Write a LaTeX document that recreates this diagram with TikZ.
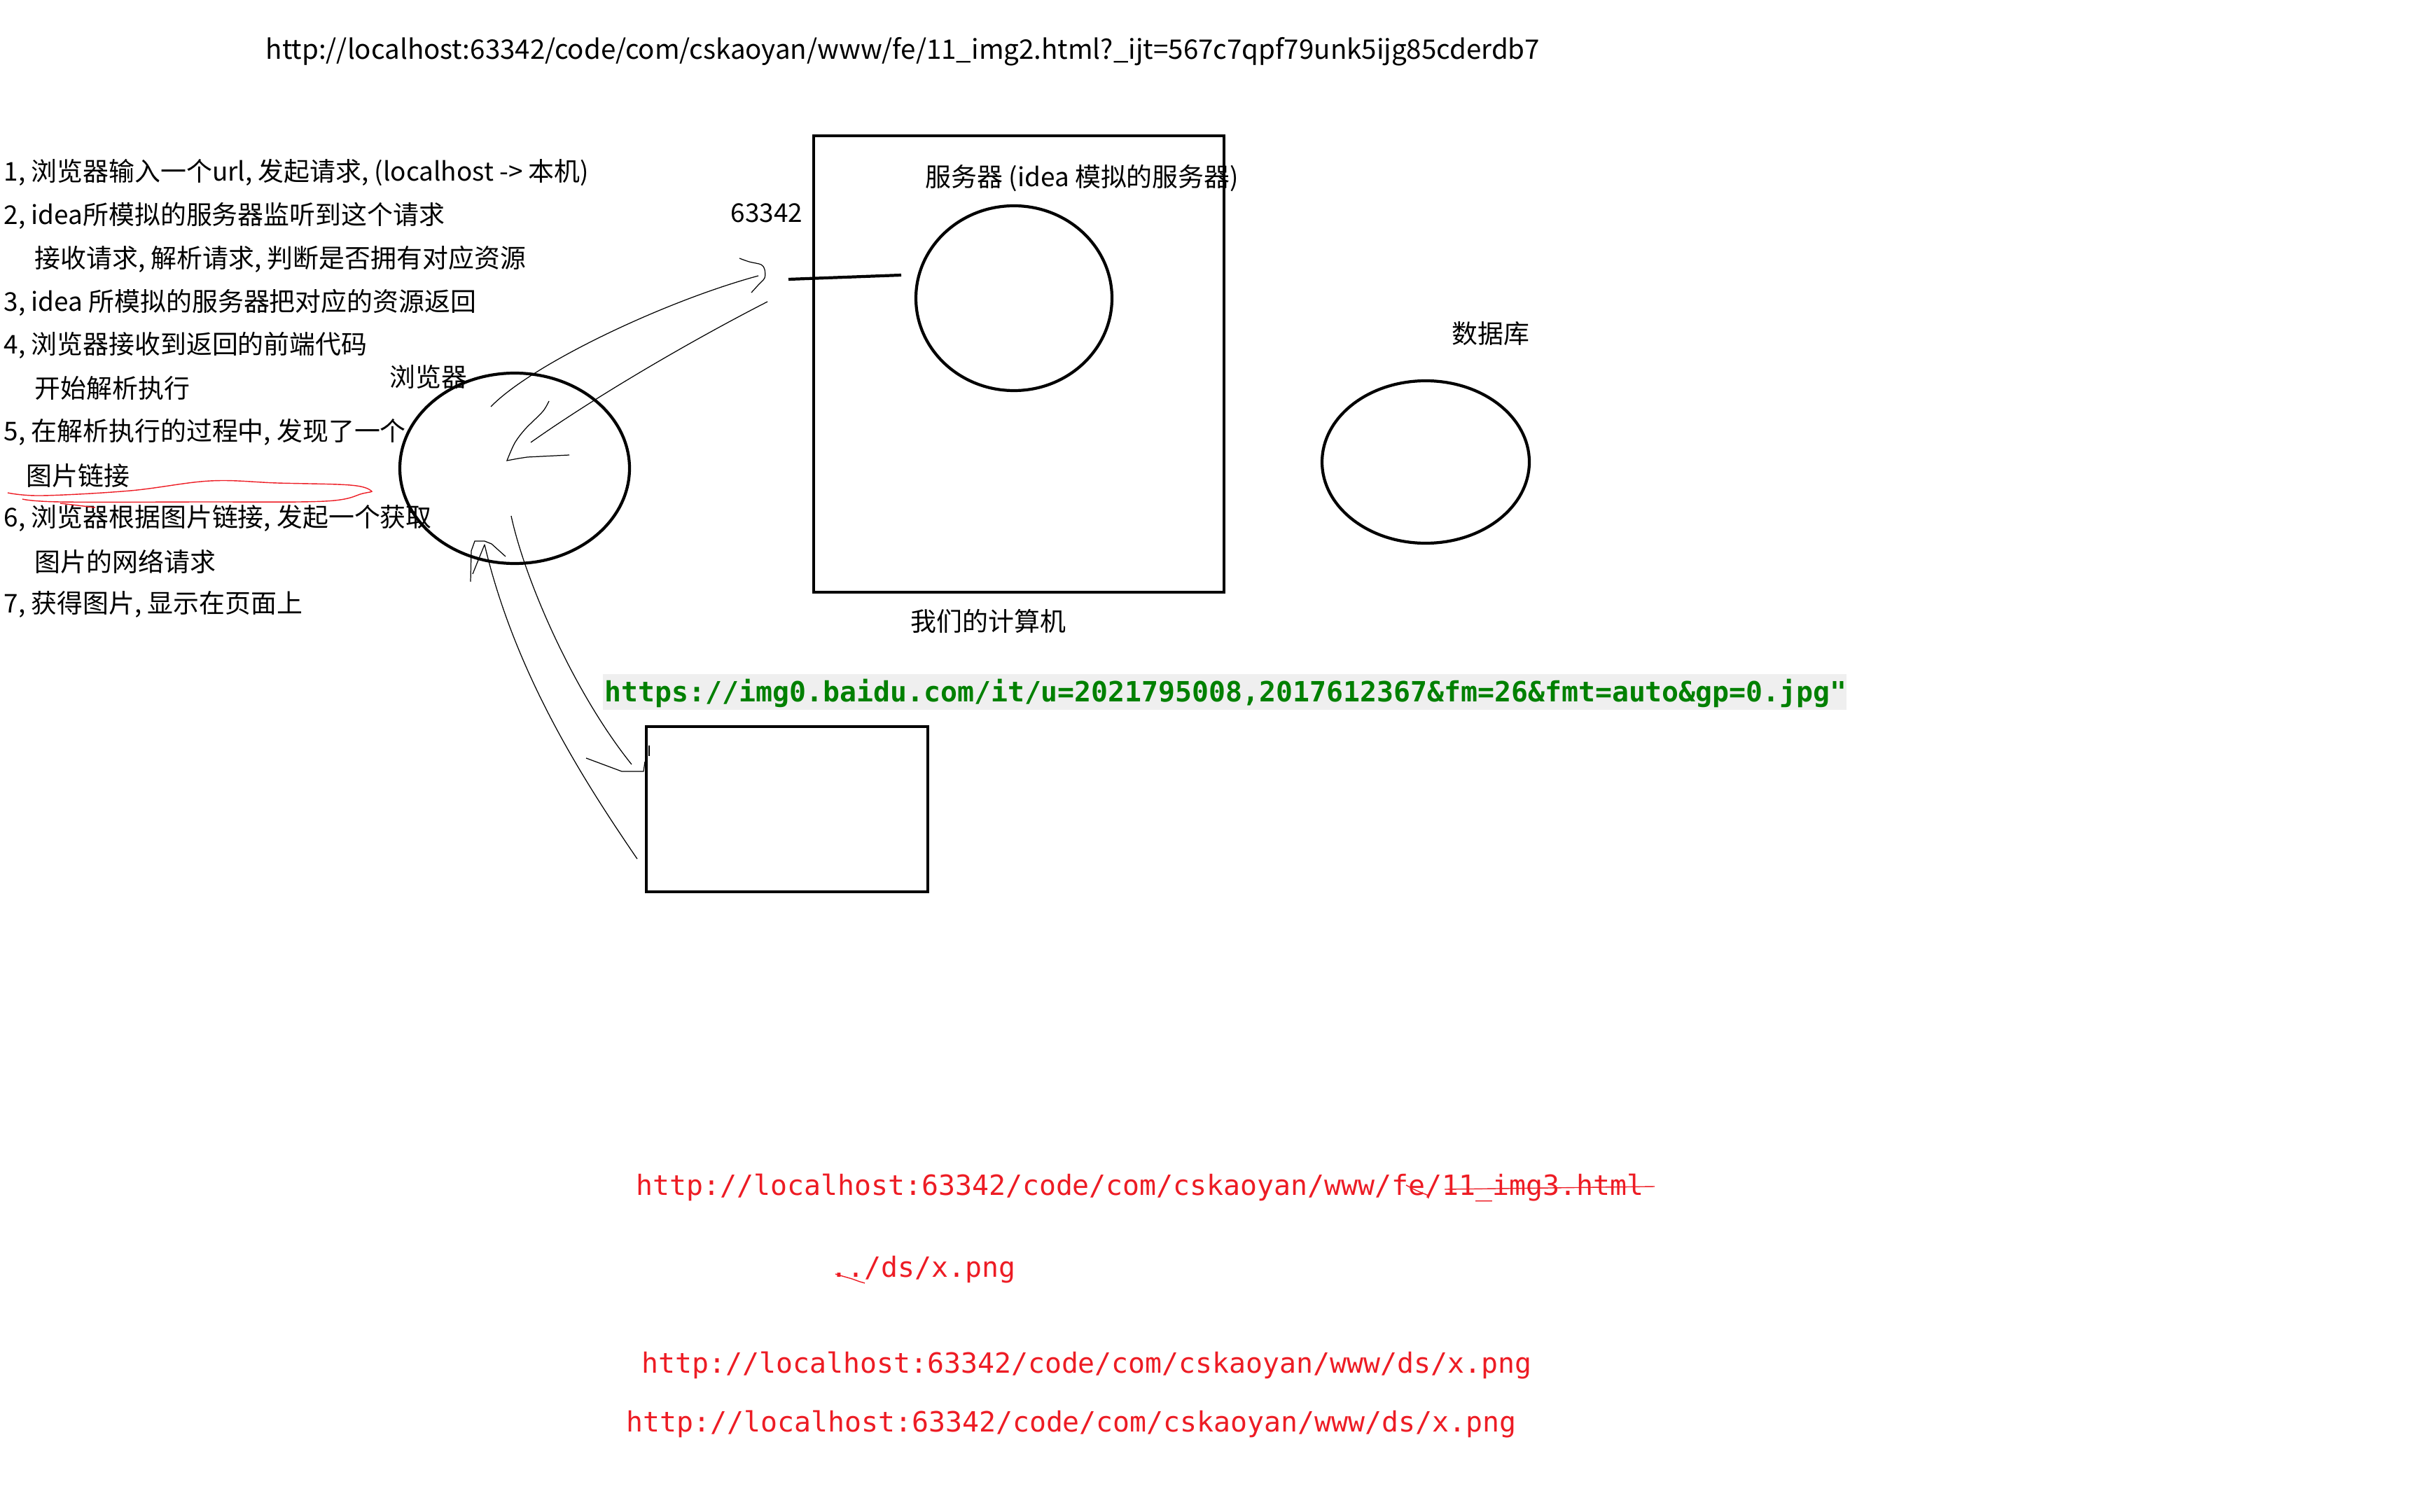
\documentclass[tikz,border=0pt]{standalone}
\usepackage{fontspec}
\newfontfamily\cjk{Noto Sans CJK SC}
\newfontfamily\urlmono{DejaVu Sans Mono}
\usepackage{tikz}
\usetikzlibrary{shapes.geometric,positioning}

\definecolor{pencilred}{RGB}{237,28,36}
\definecolor{linkgreen}{RGB}{0,128,0}
\definecolor{codebg}{RGB}{239,239,239}

\tikzset{
  note/.style={font=\cjk\fontsize{10.5}{12.6}\selectfont,inner sep=0pt,anchor=west},
  weburl/.style={font=\urlmono\fontsize{11.33}{13}\selectfont,text=pencilred,inner sep=0pt,anchor=base west},
  imgurl/.style={font=\urlmono\bfseries\fontsize{11.33}{13}\selectfont,text=linkgreen,fill=codebg,
                 inner xsep=0.03cm,inner ysep=0pt,text height=0.39cm,text depth=0.12cm,
                 text width=17.70cm,align=left,anchor=base west},
  machine/.style={draw,line width=1.2pt,inner sep=0pt},
  ring/.style={ellipse,draw,line width=1.2pt,inner sep=0pt},
  pencil/.style={line width=0.35pt},
  redpen/.style={draw=pencilred,line width=0.4pt}
}

\begin{document}
\begin{tikzpicture}
  \useasboundingbox (0,0) rectangle (34.56,-21.6);

  \node[note,font=\cjk\fontsize{10.95}{13}\selectfont] (pageurl) at (3.79,-0.74) {http://localhost:63342/code/com/cskaoyan/www/fe/11\_img2.html?\_ijt=567c7qpf79unk5ijg85cderdb7};

  % steps
  \node[note] (s1)  at (0.05,-2.47) {1, 浏览器输入一个url, 发起请求, (localhost -> 本机)};
  \node[note] (s2)  at (0.05,-3.08) {2, idea所模拟的服务器监听到这个请求};
  \node[note] (s3)  at (0.49,-3.70) {接收请求, 解析请求, 判断是否拥有对应资源};
  \node[note] (s4)  at (0.05,-4.32) {3, idea 所模拟的服务器把对应的资源返回};
  \node[note] (s5)  at (0.05,-4.93) {4, 浏览器接收到返回的前端代码};
  \node[note] (s6)  at (0.49,-5.55) {开始解析执行};
  \node[note] (s7)  at (0.05,-6.17) {5, 在解析执行的过程中, 发现了一个};
  \node[note] (s8)  at (0.37,-6.79) {图片链接};
  \node[note] (s9)  at (0.05,-7.40) {6, 浏览器根据图片链接, 发起一个获取};
  \node[note] (s10) at (0.49,-8.02) {图片的网络请求};
  \node[note] (s11) at (0.05,-8.64) {7, 获得图片, 显示在页面上};

  % browser, our computer, database
  \node[ring,minimum width=3.28cm,minimum height=2.72cm] (browser) at (7.35,-6.69) {};
  \node[note] (browserlbl) at (5.56,-5.38) {浏览器};
  \node[machine,minimum width=5.86cm,minimum height=6.52cm] (pc) at (14.55,-5.20) {};
  \node[ring,minimum width=2.80cm,minimum height=2.64cm] (server) at (14.48,-4.26) {};
  \node[note] (serverlbl) at (13.21,-2.55) {服务器 (idea 模拟的服务器)};
  \node[note] (portlbl) at (10.43,-3.04) {63342};
  \node[note] (pclbl) at (13.00,-8.87) {我们的计算机};
  \node[ring,minimum width=2.96cm,minimum height=2.32cm] (db) at (20.36,-6.60) {};
  \node[note] (dblbl) at (20.73,-4.77) {数据库};

  \coordinate (port) at (11.26,-3.99);
  \coordinate (portend) at (12.87,-3.93);
  \draw[line width=1.2pt] (port) -- (portend);

  % image url and image
  \node[imgurl] (imgsrc) at (8.60,-10.02) {https://img0.baidu.com/it/u=2021795008,2017612367\&fm=26\&fmt=auto\&gp=0.jpg"};
  \node[machine,minimum width=4.02cm,minimum height=2.36cm] (img) at (11.24,-11.56) {};

  % hand drawn arrows
  \coordinate (req0) at (7.01,-5.81);
  \coordinate (req1) at (10.83,-3.94);
  \draw[pencil] (req0) .. controls (7.60,-5.20) and (9.50,-4.30) .. (req1);
  \draw[pencil] plot[smooth] coordinates {(10.56,-3.69) (10.70,-3.74) (10.87,-3.78) (10.92,-3.85) (10.92,-3.97) (10.83,-4.07) (10.73,-4.18)};
  \coordinate (res0) at (10.96,-4.31);
  \coordinate (res1) at (7.58,-6.32);
  \draw[pencil] (res0) .. controls (10.00,-4.80) and (8.60,-5.60) .. (res1);
  \draw[pencil] plot[smooth] coordinates {(7.84,-5.73) (7.75,-5.88) (7.50,-6.13) (7.35,-6.33) (7.24,-6.58)} -- (7.40,-6.55) -- (7.53,-6.53) -- (8.13,-6.50);
  \coordinate (get0) at (7.30,-7.37);
  \coordinate (get1) at (9.02,-10.92);
  \draw[pencil] (get0) .. controls (7.50,-8.30) and (8.20,-9.90) .. (get1);
  \draw[pencil] (8.37,-10.83) -- (8.88,-11.02) -- (9.19,-11.02) -- (9.21,-10.88);
  \draw[pencil] (9.27,-10.65) -- (9.27,-10.80);
  \coordinate (back0) at (9.10,-12.27);
  \coordinate (back1) at (6.92,-7.78);
  \draw[pencil] (back0) .. controls (8.30,-11.10) and (7.35,-9.60) .. (back1);
  \draw[pencil] (6.72,-8.31) -- (6.73,-7.87) -- (6.78,-7.73) -- (6.92,-7.73) -- (7.02,-7.77) -- (7.22,-7.95);
  \draw[pencil] (6.75,-8.20) -- (back1);

  % red notes
  \draw[redpen] plot[smooth,tension=0.6] coordinates {(0.11,-7.04) (0.60,-7.08) (1.86,-7.01) (3.00,-6.87) (3.96,-6.90) (5.00,-6.93) (5.30,-7.01) (5.18,-7.05) (4.64,-7.16) (2.86,-7.17) (0.86,-7.17) (0.32,-7.13)};
  \draw[redpen] (0.86,-7.19) -- (1.36,-7.25);

  \node[weburl] (u1) at (9.08,-17.07) {http://localhost:63342/code/com/cskaoyan/www/fe/11\_img3.html};
  \node[weburl] (u2) at (11.86,-18.24) {../ds/x.png};
  \node[weburl] (u3) at (9.16,-19.61) {http://localhost:63342/code/com/cskaoyan/www/ds/x.png};
  \node[weburl] (u4) at (8.94,-20.45) {http://localhost:63342/code/com/cskaoyan/www/ds/x.png};
  \draw[redpen] (20.63,-16.99) -- (23.63,-16.95);
  \draw[redpen] (20.08,-16.93) -- (20.17,-16.98) -- (20.28,-17.03) -- (20.38,-17.07) -- (20.40,-17.12);
  \draw[redpen] (11.93,-18.20) -- (12.03,-18.23) -- (12.17,-18.27) -- (12.28,-18.31) -- (12.35,-18.33);
\end{tikzpicture}
\end{document}
